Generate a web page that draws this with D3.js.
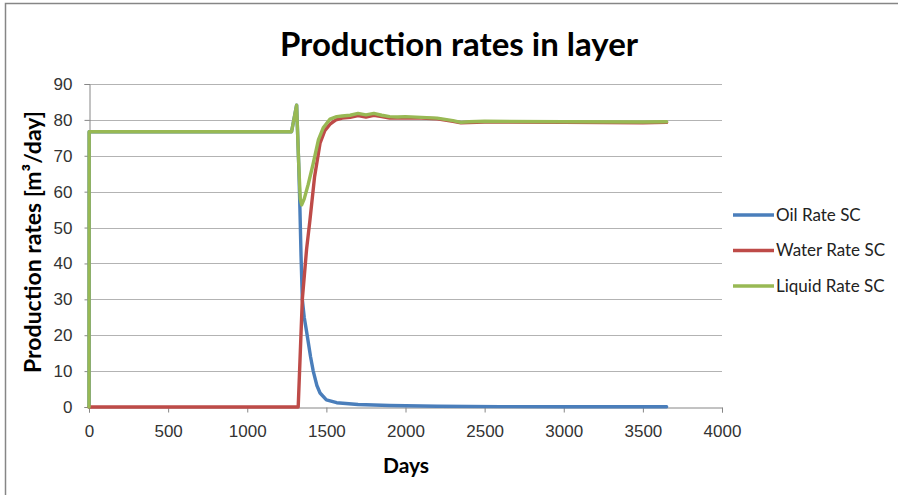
<!DOCTYPE html>
<html>
<head>
<meta charset="utf-8">
<script src="https://cdn.jsdelivr.net/npm/d3@7"></script>
<style>
  body { margin: 0; background: #fff; }
  svg { display: block; font-family: Lato, "Open Sans", sans-serif; }
</style>
</head>
<body>
<div id="chart"></div>
<script>
// series data
var oilDays = [0, 1, 1280, 1312, 1325, 1333, 1340, 1348, 1360, 1375, 1400, 1417, 1440, 1460, 1500, 1565, 1700, 1900, 2200, 2600, 3000, 3650];
var oilRate = [0, 76.7, 76.7, 84.1, 68, 55, 42, 30, 25, 21, 14, 10, 6, 3.9, 2, 1.2, 0.7, 0.4, 0.2, 0.1, 0.07, 0.05];

var waterDays = [0, 1322, 1348, 1375, 1396, 1425, 1460, 1490, 1523, 1560, 1600, 1650, 1700, 1750, 1800, 1850, 1900, 2000, 2100, 2200, 2300, 2350, 2500, 3000, 3500, 3650];
var waterRate = [0, 0, 30, 44, 52, 64, 73.5, 77, 78.8, 80, 80.5, 80.7, 81.2, 80.8, 81.3, 80.9, 80.5, 80.6, 80.5, 80.3, 79.6, 79.2, 79.4, 79.3, 79.2, 79.3];

var liquidDays = [0, 1, 1280, 1312, 1325, 1335, 1344, 1360, 1385, 1415, 1450, 1480, 1523, 1565, 1600, 1650, 1700, 1750, 1800, 1850, 1900, 1950, 2000, 2100, 2200, 2300, 2350, 2400, 2500, 3000, 3500, 3650];
var liquidRate = [0, 76.7, 76.7, 84.1, 68, 58, 56.3, 58, 62, 67.5, 74.5, 77.8, 80.2, 80.9, 81.1, 81.3, 81.8, 81.4, 81.8, 81.3, 80.9, 80.8, 80.9, 80.7, 80.5, 79.8, 79.3, 79.5, 79.6, 79.5, 79.4, 79.5];

var seriesNames = ["Oil Rate SC", "Water Rate SC", "Liquid Rate SC"];
var seriesColors = ["#4a7ebb", "#be4b48", "#98b954"];
var xTicks = [0, 500, 1000, 1500, 2000, 2500, 3000, 3500, 4000];
var yTicks = [0, 10, 20, 30, 40, 50, 60, 70, 80, 90];

var width = 898, height = 495;

var svg = d3.select("#chart")
    .append("svg")
    .attr("width", width)
    .attr("height", height);

// outer chart border
svg.append("rect")
    .attr("x", 5.5).attr("y", 3.5)
    .attr("width", 905).attr("height", 505)
    .attr("fill", "#fff")
    .attr("stroke", "#868686")
    .attr("stroke-width", 1.5);

var x = d3.scaleLinear().domain([0, 4000]).range([89, 722]);
var y = d3.scaleLinear().domain([0, 90]).range([407, 84]);

// gridlines
svg.append("g")
    .selectAll("line")
    .data(yTicks.filter(function(d) { return d > 0; }))
    .enter()
    .append("line")
    .attr("x1", x(0)).attr("x2", x(4000))
    .attr("y1", function(d) { return Math.round(y(d)) + 0.5; })
    .attr("y2", function(d) { return Math.round(y(d)) + 0.5; })
    .attr("stroke", "#b3b3b3")
    .attr("stroke-width", 1.2);

// Y axis
var yAxis = svg.append("g")
    .attr("transform", "translate(" + (x(0) + 0.5) + ",0)")
    .call(d3.axisLeft(y).tickValues(yTicks).tickFormat(d3.format("d")).tickSize(5).tickPadding(12));
yAxis.select(".domain").attr("stroke", "#868686");
yAxis.selectAll(".tick line").attr("stroke", "#868686");
yAxis.selectAll(".tick text")
    .style("font-size", "17px")
    .attr("fill", "#333");

// X axis
var xAxis = svg.append("g")
    .attr("transform", "translate(0," + (y(0) + 0.5) + ")")
    .call(d3.axisBottom(x).tickValues(xTicks).tickFormat(d3.format("d")).tickSize(5).tickPadding(12));
xAxis.select(".domain").attr("stroke", "#868686");
xAxis.selectAll(".tick line").attr("stroke", "#868686");
xAxis.selectAll(".tick text")
    .style("font-size", "17px")
    .attr("fill", "#333");

// lines
var line = d3.line()
    .x(function(d) { return x(d[0]); })
    .y(function(d) { return y(d[1]); });

var seriesData = [
    d3.zip(oilDays, oilRate),
    d3.zip(waterDays, waterRate),
    d3.zip(liquidDays, liquidRate)
];

svg.append("g")
    .selectAll("path")
    .data(seriesData)
    .enter()
    .append("path")
    .attr("d", line)
    .attr("fill", "none")
    .attr("stroke", function(d, i) { return seriesColors[i]; })
    .attr("stroke-width", 3.4)
    .attr("stroke-linejoin", "round")
    .attr("stroke-linecap", "round");

// legend
var legend = svg.append("g")
    .selectAll("g")
    .data(seriesNames)
    .enter()
    .append("g")
    .attr("transform", function(d, i) { return "translate(733," + (215 + i * 35.5) + ")"; });

legend.append("line")
    .attr("x1", 0).attr("x2", 41)
    .attr("stroke", function(d, i) { return seriesColors[i]; })
    .attr("stroke-width", 3.4);

legend.append("text")
    .attr("x", 43)
    .attr("dy", "0.35em")
    .style("font-size", "17px")
    .attr("fill", "#222")
    .text(function(d) { return d; });

// title
svg.append("text")
    .attr("x", 459)
    .attr("y", 56)
    .attr("text-anchor", "middle")
    .style("font-size", "33px")
    .style("font-weight", "bold")
    .attr("fill", "#000")
    .text("Production rates in layer");

// axis labels
svg.append("text")
    .attr("x", 406)
    .attr("y", 473)
    .attr("text-anchor", "middle")
    .style("font-size", "21px")
    .style("font-weight", "bold")
    .text("Days");

svg.append("text")
    .attr("transform", "translate(41,242) rotate(-90)")
    .attr("text-anchor", "middle")
    .style("font-size", "23px")
    .style("font-weight", "bold")
    .text("Production rates [m³/day]");
</script>
</body>
</html>
